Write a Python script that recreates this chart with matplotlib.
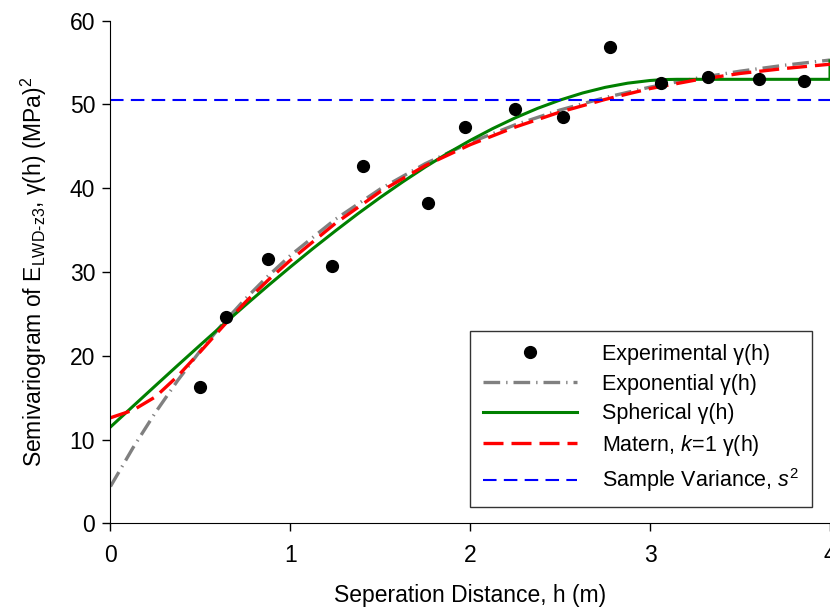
import matplotlib
matplotlib.use("Agg")
import matplotlib.pyplot as plt

plt.rcParams['font.family'] = ['Liberation Sans', 'DejaVu Sans']
plt.rcParams['mathtext.fontset'] = 'custom'
plt.rcParams['mathtext.rm'] = 'Liberation Sans'
plt.rcParams['mathtext.it'] = 'Liberation Sans:italic'
plt.rcParams['mathtext.bf'] = 'Liberation Sans:bold'

# Experimental semivariogram points
lag = [0.497, 0.640, 0.875, 1.234, 1.405, 1.764, 1.971, 2.250, 2.518, 2.779,
       3.062, 3.323, 3.605, 3.858]
gamma_exp = [16.3, 24.66, 31.55, 30.75, 42.65, 38.27, 47.35, 49.46, 48.47, 56.86,
             52.52, 53.24, 53.0, 52.8]

# Model curves
h_expo = [0.0, 0.125, 0.25, 0.375, 0.5, 0.625, 0.75, 0.875, 1.0, 1.25, 1.5, 1.75,
          2.0, 2.25, 2.5, 2.75, 3.0, 3.25, 3.5, 3.75, 4.0]
gamma_expo = [4.4, 9.01, 13.23, 17.09, 20.62, 23.85, 26.80, 29.50, 31.97, 36.29,
              39.91, 42.93, 45.46, 47.57, 49.34, 50.82, 52.07, 53.10, 53.97, 54.69,
              55.30]

h_sph = [0.0, 0.125, 0.25, 0.375, 0.5, 0.625, 0.75, 0.875, 1.0, 1.125, 1.25, 1.375,
         1.5, 1.625, 1.75, 1.875, 2.0, 2.125, 2.25, 2.375, 2.5, 2.625, 2.75, 2.875,
         3.0, 3.075, 3.15, 3.5, 4.0, 4.0]
gamma_sph = [11.5, 13.97, 16.43, 18.88, 21.30, 23.69, 26.04, 28.35, 30.60, 32.79,
             34.90, 36.95, 38.90, 40.76, 42.53, 44.18, 45.71, 47.12, 48.40, 49.54,
             50.53, 51.37, 52.04, 52.54, 52.86, 52.97, 53.0, 53.0, 53.0, 55.2]

h_mat = [0.0, 0.125, 0.25, 0.375, 0.5, 0.625, 0.75, 0.875, 1.0, 1.25, 1.5, 1.75,
         2.0, 2.25, 2.5, 2.75, 3.0, 3.25, 3.5, 3.75, 4.0]
gamma_mat = [12.6, 13.5, 15.1, 17.6, 20.5, 23.5, 26.4, 29.0, 31.4, 35.8, 39.6, 42.7,
             45.2, 47.3, 49.1, 50.6, 51.9, 52.9, 53.7, 54.3, 54.8]

sample_variance = 50.5

fig = plt.figure(figsize=(8.3, 6.1), dpi=100)
ax = fig.add_axes([0.1331, 0.1421, 0.8669, 0.8240])

ax.plot(h_expo, gamma_expo, color='#808080', lw=2.4, dashes=(5, 1.8, 0.4, 1.8),
        label=r'Exponential γ(h)')
ax.plot(h_sph, gamma_sph, color='#008000', lw=2.2, solid_joinstyle='round',
        label=r'Spherical γ(h)')
ax.plot(h_mat, gamma_mat, color='#ff0000', lw=2.4, dashes=(6, 2.4),
        label=r'Matern, $\it{k}$=1 γ(h)')
ax.axhline(sample_variance, color='#0000ff', lw=1.5, dashes=(6.5, 3.5),
           label=r'Sample Variance, $\it{s}^2$')
ax.plot(lag, gamma_exp, 'o', color='black', ms=8.5, ls='none',
        label=r'Experimental γ(h)')

ax.set_xlim(0, 4)
ax.set_ylim(0, 60)
ax.set_xticks([0, 1, 2, 3, 4])
ax.set_yticks([0, 10, 20, 30, 40, 50, 60])
ax.spines['top'].set_visible(False)
ax.spines['right'].set_visible(False)
ax.tick_params(direction='out', length=6, width=1, labelsize=16.5)
ax.tick_params(axis='x', pad=9)
ax.tick_params(axis='y', pad=5)

ax.set_xlabel('Seperation Distance, h (m)', fontsize=16.5, labelpad=12)
ax.set_ylabel(r'Semivariogram of E$_{\rm LWD\text{-}z3}$, γ(h) (MPa)$^2$', fontsize=16.5,
              labelpad=15)

handles, labels = ax.get_legend_handles_labels()
order = [4, 0, 1, 2, 3]
leg = ax.legend([handles[i] for i in order], [labels[i] for i in order],
                loc='lower right', bbox_to_anchor=(0.975, 0.032), fontsize=15.5,
                frameon=True, fancybox=False, edgecolor='black', handlelength=4.4,
                handletextpad=1.15, borderpad=0.6, borderaxespad=0, labelspacing=0.4)
leg.get_frame().set_linewidth(1.0)

fig.savefig('out.png', dpi=100)
